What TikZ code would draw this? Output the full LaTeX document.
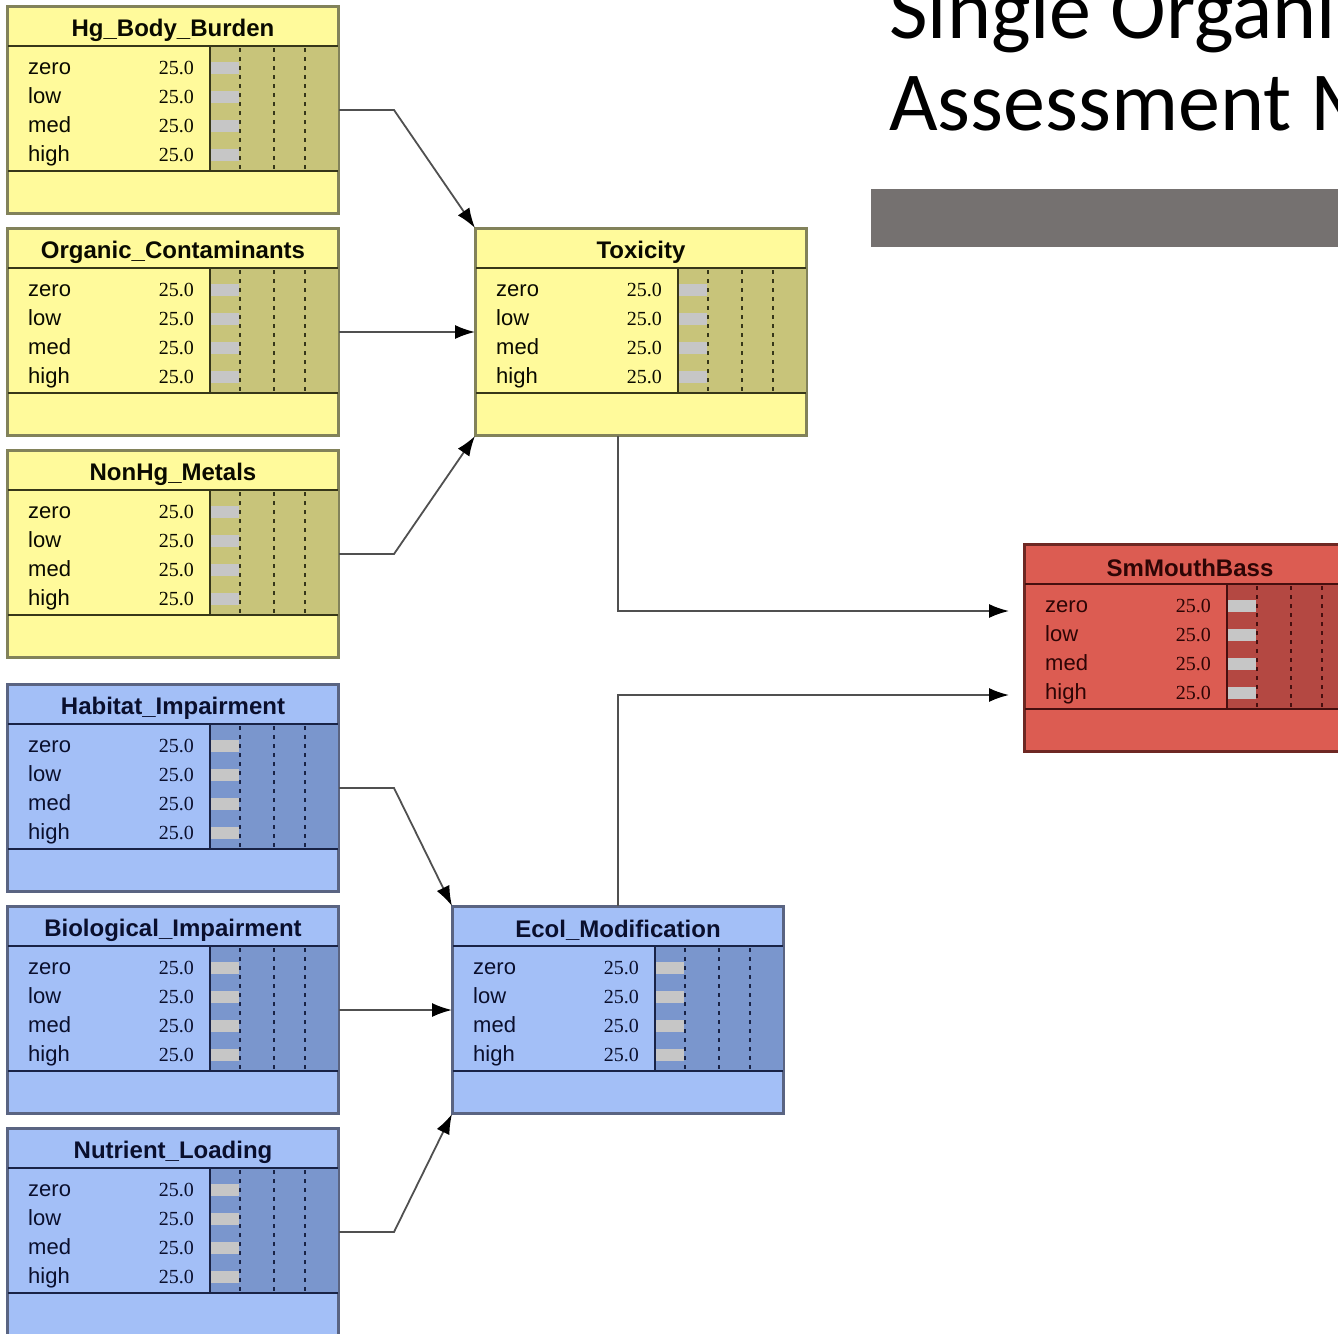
\documentclass[tikz,border=0pt]{standalone}
\usepackage{fontspec}
\setmainfont{Liberation Sans}
\newfontfamily\probfont{Liberation Serif}
\newfontfamily\slidefont{Carlito}
\usetikzlibrary{arrows.meta,calc}

\definecolor{Yfill}{RGB}{255,250,155}
\definecolor{Ybar}{RGB}{200,196,122}
\definecolor{Yedge}{RGB}{130,130,90}
\definecolor{Yline}{RGB}{55,55,25}
\definecolor{Ytext}{RGB}{10,10,0}
\definecolor{Bfill}{RGB}{163,191,247}
\definecolor{Bbar}{RGB}{122,150,205}
\definecolor{Bedge}{RGB}{90,100,130}
\definecolor{Bline}{RGB}{25,35,70}
\definecolor{Btext}{RGB}{10,15,45}
\definecolor{Rfill}{RGB}{220,92,82}
\definecolor{Rbar}{RGB}{180,72,66}
\definecolor{Redge}{RGB}{110,40,35}
\definecolor{Rline}{RGB}{70,15,15}
\definecolor{Rtext}{RGB}{45,5,5}
\definecolor{barfill}{RGB}{198,198,198}
\definecolor{linkgray}{RGB}{80,80,80}
\definecolor{slidebar}{RGB}{117,113,112}

\tikzset{
  bnbox/.style={draw, rectangle, line width=2pt, minimum width=330pt, minimum height=206pt, inner sep=0pt},
  bntitle/.style={inner sep=0pt, font=\fontsize{24}{24}\selectfont\bfseries},
  bnstate/.style={anchor=base west, inner sep=0pt, font=\fontsize{22}{22}\selectfont},
  bnprob/.style={anchor=base east, inner sep=0pt, font=\probfont\fontsize{20}{20}\selectfont},
  link/.style={line width=1.8pt, draw=linkgray, -{Latex[length=20pt,width=14pt,color=black]}},
}

% belief node: name, left, top, title, colour scheme
\newcommand{\bnnode}[5]{%
  \node[bnbox, fill=#5fill, draw=#5edge] (#1) at (#2+165,#3+103) {};
  \fill[#5bar] ($(#1.north west)+(203,40)$) rectangle ($(#1.north east)+(0,165)$);
  \foreach \k in {0,...,3}
    \fill[barfill] ($(#1.north west)+(204,56+29*\k)$) rectangle ++(28,12);
  \foreach \dx in {233,267,298}
    \draw[#5line, line width=2.5pt, dash pattern=on 4pt off 5pt] ($(#1.north west)+(\dx,42)$) -- ++(0,122);
  \draw[#5line, line width=2pt] ($(#1.north west)+(203,40)$) -- ++(0,125);
  \draw[#5line, line width=2pt] ($(#1.north west)+(0,40)$) -- ($(#1.north east)+(0,40)$);
  \draw[#5line, line width=2.5pt] ($(#1.north west)+(0,165)$) -- ($(#1.north east)+(0,165)$);
  \draw[#5edge, line width=2pt] (#1.north west) rectangle (#1.south east);
  \node[bntitle, text=#5text] (#1-title) at ($(#1.north)+(0,24)$) {#4};
  \foreach \st [count=\k from 0] in {zero,low,med,high} {
    \node[bnstate, text=#5text] (#1-\st) at ($(#1.north west)+(21,68+29*\k)$) {\st};
    \node[bnprob, text=#5text] (#1-p\st) at ($(#1.north west)+(187,68+29*\k)$) {25.0};
  }
}

\begin{document}
\begin{tikzpicture}[x=1pt, y=-1pt]
\useasboundingbox (0,0) rectangle (1338,1333);
\clip (0,0) rectangle (1338,1333);

% slide title
\node[anchor=base west, inner sep=0pt, font=\slidefont\fontsize{84}{92}\selectfont] (line1) at (889,38) {Single Organism};
\node[anchor=base west, inner sep=0pt, font=\slidefont\fontsize{84}{92}\selectfont] (line2) at (889,130) {Assessment Model};
\fill[slidebar] (871,189) rectangle (1338,247);

% network
\bnnode{hg}{8}{7}{Hg\_Body\_Burden}{Y}
\bnnode{oc}{8}{229}{Organic\_Contaminants}{Y}
\bnnode{nonhg}{8}{451}{NonHg\_Metals}{Y}
\bnnode{hab}{8}{685}{Habitat\_Impairment}{B}
\bnnode{bio}{8}{907}{Biological\_Impairment}{B}
\bnnode{nut}{8}{1129}{Nutrient\_Loading}{B}
\bnnode{tox}{476}{229}{Toxicity}{Y}
\bnnode{eco}{453}{907}{Ecol\_Modification}{B}
\bnnode{bass}{1025}{545}{SmMouthBass}{R}

\draw[link] (hg.east) -- ++(55,0) -- (tox.north west);
\draw[link] (oc.east) -- (tox.west);
\draw[link] (nonhg.east) -- ++(55,0) -- (tox.south west);
\draw[link] (hab.east) -- ++(55,0) -- (eco.north west);
\draw[link] (bio.east) -- (eco.west);
\draw[link] (nut.east) -- ++(55,0) -- (eco.south west);
\draw[link, shorten >=15pt] (tox.south -| eco.north) |- ($(bass.west)+(0,-37)$);
\draw[link, shorten >=15pt] (eco.north) |- ($(bass.west)+(0,47)$);

\end{tikzpicture}
\end{document}
